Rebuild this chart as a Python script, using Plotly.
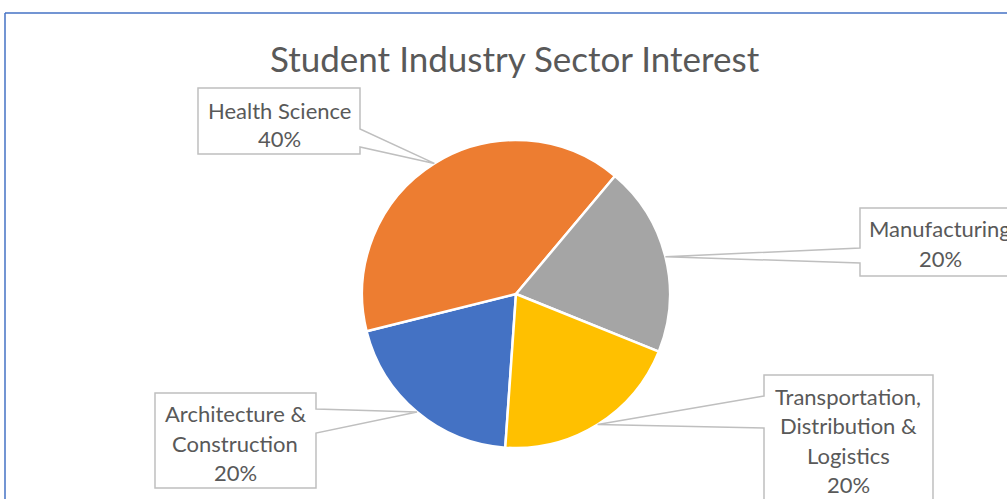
import math
import plotly.graph_objects as go

# ---- data ----
categories = ["Architecture & Construction", "Health Science", "Manufacturing",
              "Transportation, Distribution & Logistics"]
shares = [20, 40, 20, 20]
colors = ["#4472C4", "#ED7D31", "#A5A5A5", "#FFC000"]
label_lines = [
    ["Architecture &", "Construction", "20%"],
    ["Health Science", "40%"],
    ["Manufacturing", "20%"],
    ["Transportation,", "Distribution &", "Logistics", "20%"],
]
title_text = "Student Industry Sector Interest"

W, H = 1007, 499
ROT = 184  # start angle of first slice (clockwise from 12 o'clock)
CX, CY, R = 516, 294, 154  # pie centre / radius in pixels


def px(x):
    return x / W


def py(y):
    return 1 - y / H


fig = go.Figure()
fig.add_trace(go.Pie(
    labels=categories, values=shares, sort=False, direction="clockwise",
    rotation=ROT, marker=dict(colors=colors, line=dict(color="white", width=2.5)),
    textinfo="none", hoverinfo="label+percent", showlegend=False,
    domain=dict(x=[px(CX - R), px(CX + R)], y=[py(CY + R), py(CY - R)]),
))

# slice mid-angle tips derived from data
total = sum(shares)
tips = []
acc = 0
for v in shares:
    mid = ROT + (acc + v / 2) / total * 360
    acc += v
    a = math.radians(mid)
    tips.append((CX + R * math.sin(a), CY - R * math.cos(a)))

# callout boxes (pixel layout): (x0, y0, x1, y1, side, wedge_y0, wedge_y1, text_cx, line_ys)
boxes = [
    (155, 393, 316, 488, "right", 409, 433, 235, [413, 443, 472]),
    (198, 88, 360, 154, "right", 129, 147, 279, [110, 139]),
    (860, 208, 1020, 276, "left", 248, 263, 940, [228, 258]),
    (764, 375, 933, 515, "left", 396, 428, 848, [396, 425, 455, 484]),
]

shapes = []
annotations = []
for i, (x0, y0, x1, y1, side, wy0, wy1, tcx, lys) in enumerate(boxes):
    tx, ty = tips[i]
    if side == "right":
        pts = [(x0, y0), (x1, y0), (x1, wy0), (tx, ty), (x1, wy1), (x1, y1), (x0, y1)]
    else:
        pts = [(x0, y0), (x1, y0), (x1, y1), (x0, y1), (x0, wy1), (tx, ty), (x0, wy0)]
    path = "M " + " L ".join(f"{px(x):.5f},{py(y):.5f}" for x, y in pts) + " Z"
    shapes.append(dict(type="path", xref="paper", yref="paper", path=path,
                       fillcolor="white", line=dict(color="#BFBFBF", width=1.5),
                       layer="above"))
    for line, ly in zip(label_lines[i], lys):
        annotations.append(dict(text=line, x=px(tcx), y=py(ly), xref="paper", yref="paper",
                                showarrow=False, xanchor="center", yanchor="middle",
                                font=dict(family="Lato", size=22, color="#595959")))

# outer chart border (partially visible)
shapes.append(dict(type="line", xref="paper", yref="paper", x0=px(5), y0=py(13), x1=1.2, y1=py(13),
                   line=dict(color="#4472C4", width=1.5)))
shapes.append(dict(type="line", xref="paper", yref="paper", x0=px(5), y0=py(13), x1=px(5), y1=-0.2,
                   line=dict(color="#4472C4", width=1.5)))

annotations.append(dict(text=title_text, x=px(515), y=py(58), xref="paper", yref="paper",
                        showarrow=False, xanchor="center", yanchor="middle",
                        font=dict(family="Lato", size=35, color="#595959")))

fig.update_layout(
    width=W, height=H, margin=dict(l=0, r=0, t=0, b=0),
    paper_bgcolor="white", plot_bgcolor="white",
    shapes=shapes, annotations=annotations,
)

fig.write_html("out.html", config={"displayModeBar": False},
               post_script="document.body.style.margin='0';")
